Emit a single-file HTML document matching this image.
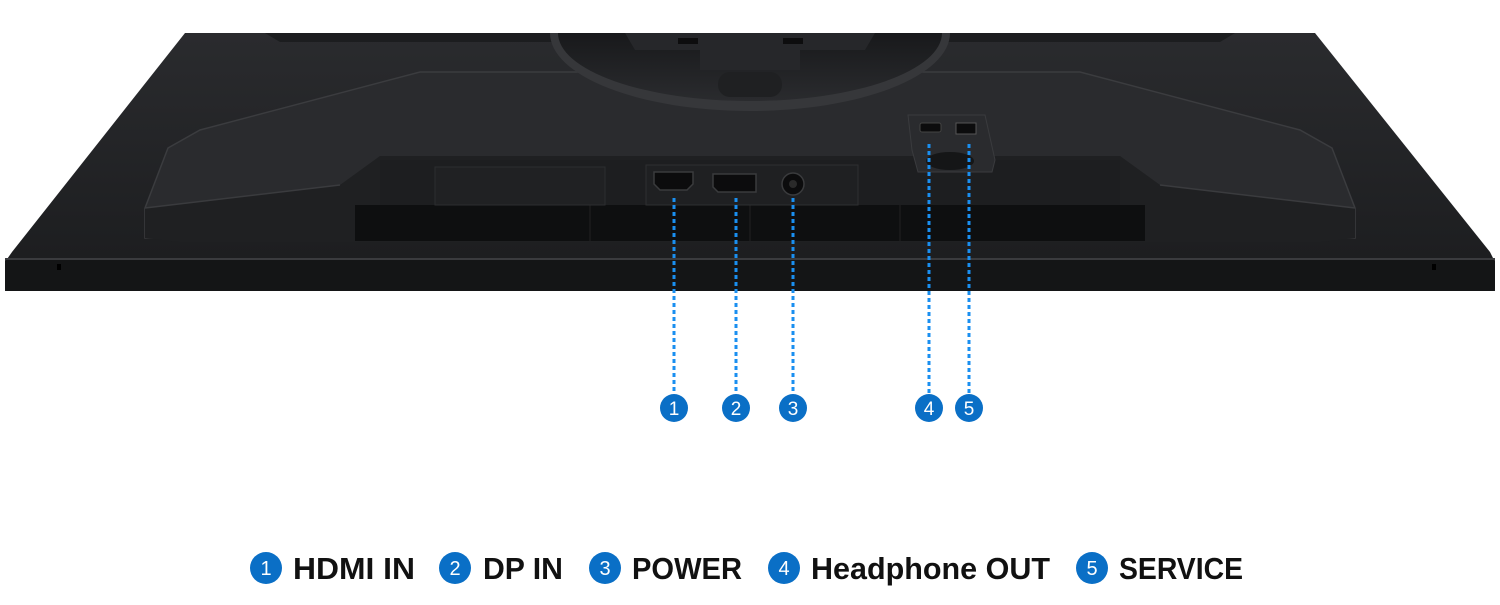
<!DOCTYPE html>
<html><head><meta charset="utf-8"><style>
html,body{margin:0;padding:0;background:#fff;}
svg{display:block}
</style></head><body>
<svg width="1500" height="605" viewBox="0 0 1500 605" xmlns="http://www.w3.org/2000/svg">
<defs>
<linearGradient id="body" x1="0" y1="0" x2="0" y2="1"><stop offset="0" stop-color="#2a2b2e"/><stop offset="1" stop-color="#1b1c1e"/></linearGradient>
<linearGradient id="stand" x1="0" y1="0" x2="0" y2="1"><stop offset="0" stop-color="#18191b"/><stop offset="1" stop-color="#2a2b2e"/></linearGradient>
</defs>
<!-- main back body -->
<polygon points="185,33 1315,33 1490,252 1495,262 1495,291 5,291 5,262 12,252" fill="url(#body)"/>
<!-- bezel -->
<rect x="5" y="258" width="1490" height="33" rx="3" fill="#141516"/>
<rect x="5" y="258" width="1490" height="2" fill="#3a3b3e"/>
<rect x="57" y="264" width="4" height="6" fill="#000"/>
<rect x="1432" y="264" width="4" height="6" fill="#000"/>
<!-- top ledge -->
<polygon points="265,33 1235,33 1220,42 280,42" fill="#1c1d1f"/>
<!-- raised panel -->
<polygon points="145,208 168,148 200,130 420,72 1080,72 1300,130 1332,148 1355,208 1355,238 145,238" fill="#2a2b2e" stroke="#3b3c3f" stroke-width="1.5"/>
<polygon points="145,208 340,185 380,156 1120,156 1160,185 1355,208 1355,238 1320,242 180,242 145,238" fill="#1f2022"/>
<line x1="145" y1="208" x2="340" y2="185" stroke="#3a3b3e" stroke-width="1.5"/>
<line x1="1160" y1="185" x2="1355" y2="208" stroke="#3a3b3e" stroke-width="1.5"/>
<!-- bottom recess -->
<rect x="355" y="205" width="790" height="36" fill="#0e0f10"/>
<line x1="590" y1="205" x2="590" y2="241" stroke="#222"/>
<line x1="750" y1="205" x2="750" y2="241" stroke="#222"/>
<line x1="900" y1="205" x2="900" y2="241" stroke="#222"/>
<!-- port panel -->
<rect x="380" y="160" width="740" height="45" fill="#1d1e20"/>
<rect x="435" y="167" width="170" height="38" fill="#202123" stroke="#2c2d2f"/>
<rect x="646" y="165" width="212" height="40" fill="#1f2022" stroke="#2e2f31"/>
<!-- stand base -->
<path d="M550,33 L950,33 A200,78 0 0 1 550,33 Z" fill="#36373a"/>
<path d="M558,33 L942,33 A192,68 0 0 1 558,33 Z" fill="url(#stand)"/>
<polygon points="625,33 875,33 865,50 800,50 800,70 700,70 700,50 635,50" fill="#26272a"/>
<rect x="678" y="38" width="20" height="6" fill="#0d0d0e"/>
<rect x="783" y="38" width="20" height="6" fill="#0d0d0e"/>
<rect x="718" y="72" width="64" height="25" rx="12" fill="#1f2022"/>
<!-- HDMI -->
<polygon points="654,172 693,172 693,184 687,190 660,190 654,184" fill="#0c0c0d" stroke="#3a3b3d" stroke-width="1.5"/>
<!-- DP -->
<polygon points="713,174 756,174 756,192 718,192 713,187" fill="#0c0c0d" stroke="#3a3b3d" stroke-width="1.5"/>
<!-- power -->
<circle cx="793" cy="184" r="11" fill="#0c0c0d" stroke="#3a3b3d" stroke-width="1.5"/>
<circle cx="793" cy="184" r="4" fill="#2a2a2a"/>
<!-- side port box -->
<polygon points="908,115 985,115 995,160 992,172 918,172 912,150" fill="#2a2b2e" stroke="#3a3b3e"/>
<rect x="920" y="123" width="21" height="9" rx="2" fill="#0c0c0d" stroke="#444"/>
<rect x="956" y="123" width="20" height="11" fill="#0c0c0d" stroke="#555"/>
<ellipse cx="950" cy="161" rx="24" ry="9" fill="#151617"/>
<!-- dotted leaders -->
<g stroke="#1a8ff0" stroke-width="3" stroke-dasharray="4 3">
<line x1="674" y1="198" x2="674" y2="394"/>
<line x1="736" y1="198" x2="736" y2="394"/>
<line x1="793" y1="198" x2="793" y2="394"/>
<line x1="929" y1="144" x2="929" y2="394"/>
<line x1="969" y1="144" x2="969" y2="394"/>
</g>
<!-- numbered circles -->
<g font-family="Liberation Sans, sans-serif" font-size="19" fill="#fff" text-anchor="middle">
<circle cx="674" cy="408" r="14" fill="#0a6fc6"/><text x="674" y="415">1</text>
<circle cx="736" cy="408" r="14" fill="#0a6fc6"/><text x="736" y="415">2</text>
<circle cx="793" cy="408" r="14" fill="#0a6fc6"/><text x="793" y="415">3</text>
<circle cx="929" cy="408" r="14" fill="#0a6fc6"/><text x="929" y="415">4</text>
<circle cx="969" cy="408" r="14" fill="#0a6fc6"/><text x="969" y="415">5</text>
</g>
<!-- legend -->
<g font-family="Liberation Sans, sans-serif" font-size="20" fill="#fff" text-anchor="middle">
<circle cx="266" cy="568" r="16" fill="#0a6fc6"/><text x="266" y="575">1</text>
<circle cx="455" cy="568" r="16" fill="#0a6fc6"/><text x="455" y="575">2</text>
<circle cx="605" cy="568" r="16" fill="#0a6fc6"/><text x="605" y="575">3</text>
<circle cx="784" cy="568" r="16" fill="#0a6fc6"/><text x="784" y="575">4</text>
<circle cx="1092" cy="568" r="16" fill="#0a6fc6"/><text x="1092" y="575">5</text>
</g>
<g font-family="Liberation Sans, sans-serif" font-weight="bold" font-size="31" fill="#111">
<text x="293" y="579" textLength="122" lengthAdjust="spacingAndGlyphs">HDMI IN</text>
<text x="483" y="579" textLength="80" lengthAdjust="spacingAndGlyphs">DP IN</text>
<text x="632" y="579" textLength="110" lengthAdjust="spacingAndGlyphs">POWER</text>
<text x="811" y="579" textLength="239" lengthAdjust="spacingAndGlyphs">Headphone OUT</text>
<text x="1119" y="579" textLength="124" lengthAdjust="spacingAndGlyphs">SERVICE</text>
</g>
</svg>
</body></html>
